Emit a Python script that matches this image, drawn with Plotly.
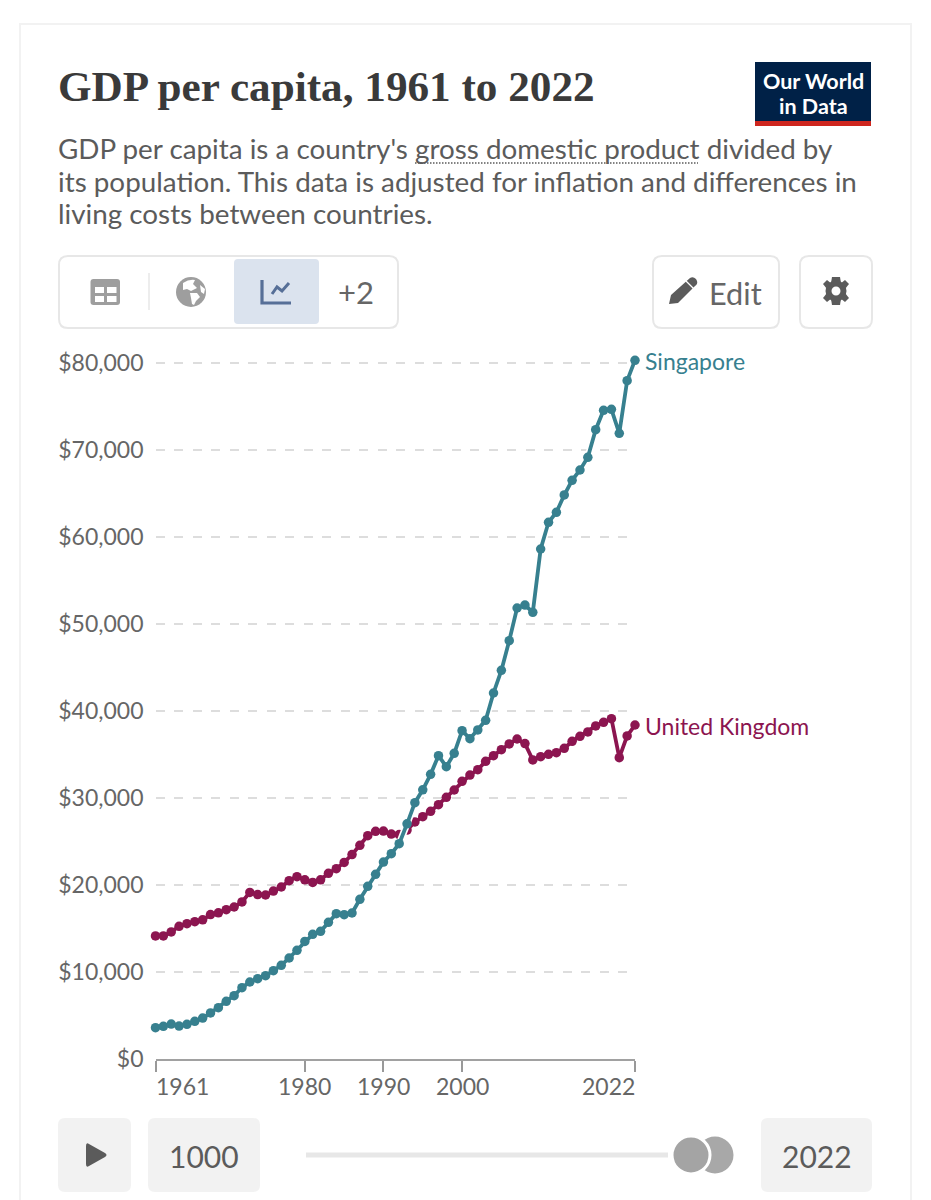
import plotly.graph_objects as go

years = list(range(1961, 2023))
singapore = [3600, 3750, 4020, 3790, 3980, 4330, 4710, 5290, 5900, 6630,
             7280, 8200, 8850, 9230, 9580, 10150, 10770, 11610, 12490, 13520,
             14330, 14670, 15710, 16700, 16590, 16780, 18350, 19850, 21230, 22640,
             23600, 24750, 27030, 29460, 30940, 32720, 34870, 33600, 35130, 37740,
             36820, 37820, 38930, 42070, 44670, 48080, 51840, 52180, 51340, 58620,
             61690, 62840, 64830, 66510, 67700, 69160, 72340, 74560, 74670, 71920,
             77970, 80310]
united_kingdom = [14140, 14140, 14600, 15250, 15550, 15790, 16000, 16600, 16800, 17160,
                  17470, 18050, 19150, 18900, 18850, 19300, 19770, 20500, 20960, 20600,
                  20300, 20600, 21340, 21880, 22600, 23500, 24560, 25670, 26170, 26200,
                  25860, 25800, 26320, 27240, 27850, 28470, 29230, 30080, 30920, 31920,
                  32640, 33260, 34210, 34870, 35560, 36210, 36780, 36250, 34370, 34750,
                  35020, 35210, 35710, 36510, 37090, 37590, 38280, 38700, 39120, 34640,
                  37130, 38390]
x_ticks = [1961, 1980, 1990, 2000, 2022]
x_anchor = ["left", "center", "center", "center", "right"]
y_ticks = [0, 10000, 20000, 30000, 40000, 50000, 60000, 70000, 80000]
y_labels = ["$0", "$10,000", "$20,000", "$30,000", "$40,000", "$50,000", "$60,000", "$70,000", "$80,000"]
subtitle = ["GDP per capita is a country's gross domestic product divided by",
            "its population. This data is adjusted for inflation and differences in",
            "living costs between countries."]

W, H = 931, 1200
TEAL, RED, GREY, ICON = "#37808f", "#8c1550", "#666666", "#9e9e9e"
FONT = "Lato"
Y_MAX = 82000

fig = go.Figure()
fig.add_trace(go.Scatter(x=years, y=united_kingdom, mode="lines+markers", cliponaxis=False,
                         line=dict(color=RED, width=3.8), marker=dict(color=RED, size=9.5)))
fig.add_trace(go.Scatter(x=years, y=singapore, mode="lines", cliponaxis=False,
                         line=dict(color="white", width=7)))
fig.add_trace(go.Scatter(x=years, y=singapore, mode="lines+markers", cliponaxis=False,
                         line=dict(color=TEAL, width=3.8), marker=dict(color=TEAL, size=9.5)))

shapes, notes = [], []

def rr(x0, y0, x1, y1, r):
    return (f"M{x0+r},{y0} L{x1-r},{y0} Q{x1},{y0} {x1},{y0+r} L{x1},{y1-r} Q{x1},{y1} {x1-r},{y1} "
            f"L{x0+r},{y1} Q{x0},{y1} {x0},{y1-r} L{x0},{y0+r} Q{x0},{y0} {x0+r},{y0} Z")

def path(d, fill=None, line=None, lw=2, dash=None):
    shapes.append(dict(type="path", path=d, xref="x2", yref="y2", layer="below",
                       fillcolor=fill if fill else "rgba(0,0,0,0)",
                       line=dict(color=line if line else "rgba(0,0,0,0)", width=lw if line else 0,
                                 dash=dash)))

def circle(cx, cy, r, fill, line=None, lw=0):
    shapes.append(dict(type="circle", xref="x2", yref="y2", layer="below",
                       x0=cx-r, x1=cx+r, y0=cy-r, y1=cy+r, fillcolor=fill,
                       line=dict(color=line if line else fill, width=lw)))

def text(s, x, y, size, color, anchor="left", family=FONT):
    notes.append(dict(text=s, x=x, y=y, xref="x2", yref="y2", xanchor=anchor, yanchor="middle",
                      showarrow=False, font=dict(family=family, size=size, color=color),
                      xshift=-2 if anchor == "left" else 0))

# card
path("M20,1210 L20,24 L911,24 L911,1210", line="#f2f2f2", lw=2)

# header
text("<b>GDP per capita, 1961 to 2022</b>", 58, 86.5, 43.2, "#3a3a3a", family="Liberation Serif")
path("M755,62 L871,62 L871,121 L755,121 Z", fill="#002147")
path("M755,121 L871,121 L871,126 L755,126 Z", fill="#ce261e")
text("<b>Our World</b>", 813, 80.5, 21.5, "white", "center")
text("<b>in Data</b>", 813, 106, 21.5, "white", "center")
for s, y in zip(subtitle, [148.5, 181.5, 213.5]):
    text(s, 58, y, 27.8, "#5b5b5b")
path("M415,163 L698,163", line="#5b5b5b", lw=1.5, dash="1.5px,1.5px")

# toolbar
path(rr(59, 256, 398, 328, 9), fill="white", line="#e7e7e7", lw=2)
path(rr(90.5, 279, 120, 305, 3), fill=ICON)
path("M95,287 L104,287 L104,293 L95,293 Z", fill="white")
path("M107,287 L116.5,287 L116.5,293 L107,293 Z", fill="white")
path("M95,296 L104,296 L104,302 L95,302 Z", fill="white")
path("M107,296 L116.5,296 L116.5,302 L107,302 Z", fill="white")
path("M149,273 L149,310", line="#e7e7e7", lw=1.5)
circle(191, 292, 15, ICON)
path("M183,283 Q189,279 195,280 L193,284 L197,288 L191,291 L187,289 L183,290 Z", fill="white")
path("M190,293 L197,293 L200,297 L196,301 L194,305 L192,304 L191,298 Z", fill="white")
path("M200,285 L205,289 L204,294 L201,292 Z", fill="white")
path(rr(234, 259, 319, 324, 4), fill="#dbe3ee")
path("M262,280 L262,303 L291,303", line="#566f97", lw=3.2)
path("M272,294 L277,287 L282,291 L289,283", line="#566f97", lw=3)
text("+2", 356, 292, 31, GREY, "center")
path(rr(653, 256, 779, 328, 9), fill="white", line="#e7e7e7", lw=2)
path("M669,304 L671,295 L690,278 Q693,276 696,279 L697,281 Q698,284 695,286 L678,303 Z", fill="#5b5b5b")
path("M686,281 L694,289", line="white", lw=1.2)
text("Edit", 709, 293, 30.7, GREY)
path(rr(800, 256, 872, 328, 9), fill="white", line="#e7e7e7", lw=2)
circle(836, 291, 10.5, "#5b5b5b")
for d in ["M832,277 L840,277 L841,283 L831,283 Z", "M832,305 L840,305 L841,299 L831,299 Z",
          "M823,284 L827,280 L832,284 L827,289 Z", "M849,284 L845,280 L840,284 L845,289 Z",
          "M823,298 L827,302 L832,298 L827,293 Z", "M849,298 L845,302 L840,298 L845,293 Z"]:
    path(d, fill="#5b5b5b")
circle(836, 291, 4.5, "white")

# timeline
path(rr(58, 1118, 131, 1192, 7), fill="#f2f2f2")
path("M86,1146 L86,1164 Q86,1168 89,1166 L105,1157 Q108,1155 105,1153 L89,1144 Q86,1142 86,1146 Z", fill="#5b5b5b")
path(rr(148, 1118, 260, 1192, 7), fill="#f2f2f2")
text("1000", 204, 1155.5, 30, "#5b5b5b", "center")
path("M306,1155 L668,1155", line="#e7e7e7", lw=5)
circle(715, 1155, 18.5, "#a8a8a8")
circle(691, 1155, 19, "#a4a4a4", "white", 3)
path(rr(761, 1118, 872, 1192, 7), fill="#f2f2f2")
text("2022", 817, 1155.5, 30, "#5b5b5b", "center")

# chart labels drawn from the data
for lab, vals, col in [("Singapore", singapore, TEAL), ("United Kingdom", united_kingdom, RED)]:
    notes.append(dict(text=lab, x=years[-1], y=vals[-1], xref="x", yref="y", xanchor="left",
                      yanchor="middle", xshift=8, yshift=-0.5, showarrow=False,
                      font=dict(family=FONT, size=23, color=col)))
for t, a in zip(x_ticks, x_anchor):
    notes.append(dict(text=str(t), x=t, y=0, xref="x", yref="y", xanchor=a, yanchor="middle",
                      yshift=-27, showarrow=False, font=dict(family=FONT, size=23, color=GREY),
                      xshift={"left": -2, "center": 0, "right": 2}[a]))

fig.update_layout(
    template="none",
    width=W, height=H, margin=dict(l=0, r=0, t=0, b=0, pad=0),
    paper_bgcolor="white", plot_bgcolor="rgba(0,0,0,0)", showlegend=False,
    font=dict(family=FONT), shapes=shapes, annotations=notes,
    xaxis=dict(domain=[155.5/W, 635/W], range=[years[0], years[-1]], tickmode="array",
               tickvals=x_ticks, showticklabels=False, ticks="outside", ticklen=11, tickwidth=1.5,
               tickcolor="#999999", showgrid=False, showline=True, linecolor="#a1a1a1", linewidth=2,
               zeroline=False, anchor="y", automargin=False),
    yaxis=dict(domain=[1-1059/H, 1-(1059-Y_MAX*8.7/1000)/H], range=[0, Y_MAX], tickmode="array",
               tickvals=y_ticks, ticktext=y_labels,
               tickfont=dict(family=FONT, size=23, color=GREY),
               ticks="", ticklabelstandoff=11, showgrid=True, gridcolor="#dddddd", gridwidth=2,
               griddash="9px,9.5px", zeroline=False, showline=False, anchor="x", automargin=False),
    xaxis2=dict(domain=[0, 1], range=[0, W], visible=False, anchor="y2", fixedrange=True, automargin=False),
    yaxis2=dict(domain=[0, 1], range=[H, 0], visible=False, anchor="x2", fixedrange=True, automargin=False),
)
fig.add_trace(go.Scatter(x=[0], y=[0], xaxis="x2", yaxis="y2", mode="markers",
                         marker=dict(opacity=0), hoverinfo="skip"))
fig.write_html("out.html", config=dict(displayModeBar=False),
               post_script="document.body.style.margin='0';document.body.style.overflow='hidden';")
